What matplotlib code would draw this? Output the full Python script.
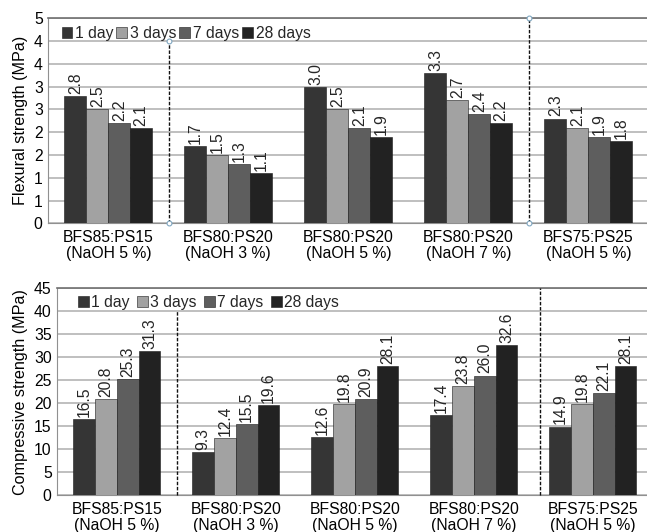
import matplotlib

matplotlib.use("Agg")
import matplotlib.pyplot as plt
import numpy as np

plt.rcParams["font.family"] = ["Liberation Sans", "DejaVu Sans"]
plt.rcParams["font.size"] = 11.3
plt.rcParams["text.color"] = "#262626"

CATEGORIES = [
    "BFS85:PS15\n(NaOH 5 %)",
    "BFS80:PS20\n(NaOH 3 %)",
    "BFS80:PS20\n(NaOH 5 %)",
    "BFS80:PS20\n(NaOH 7 %)",
    "BFS75:PS25\n(NaOH 5 %)",
]
SERIES = ["1 day", "3 days", "7 days", "28 days"]
COLORS = ["#353535", "#a2a2a2", "#5e5e5e", "#222222"]

# flexural strength (MPa)
FLEX_1D = [2.8, 1.7, 3.0, 3.3, 2.3]
FLEX_3D = [2.5, 1.5, 2.5, 2.7, 2.1]
FLEX_7D = [2.2, 1.3, 2.1, 2.4, 1.9]
FLEX_28D = [2.1, 1.1, 1.9, 2.2, 1.8]
FLEX_TICKS = [0, 0.5, 1.0, 1.5, 2.0, 2.5, 3.0, 3.5, 4.0, 4.5]
FLEX_TICK_LABELS = ["0", "1", "1", "2", "2", "3", "3", "4", "4", "5"]

# compressive strength (MPa)
COMP_1D = [16.5, 9.3, 12.6, 17.4, 14.9]
COMP_3D = [20.8, 12.4, 19.8, 23.8, 19.8]
COMP_7D = [25.3, 15.5, 20.9, 26.0, 22.1]
COMP_28D = [31.3, 19.6, 28.1, 32.6, 28.1]
COMP_TICKS = [0, 5, 10, 15, 20, 25, 30, 35, 40, 45]


def draw_panel(ax, series, ymax, ticks, ticklabels, ylabel, dividers, markers, legend_pos, colsp):
    x = np.arange(len(CATEGORIES))
    w = 0.183
    for i, (vals, name, col) in enumerate(zip(series, SERIES, COLORS)):
        xs = x + (i - 1.5) * w
        ax.bar(xs, vals, width=w, color=col, edgecolor="#1a1a1a", linewidth=0.4,
               label=name, zorder=3)
        for xi, v in zip(xs, vals):
            ax.annotate(f"{v:.1f}", (xi, v), xytext=(0, 1.5), textcoords="offset points",
                        rotation=90, ha="center", va="bottom", fontsize=11.3, zorder=4)

    ax.set_xlim(-0.5, len(CATEGORIES) - 0.5)
    ax.set_ylim(0, ymax)
    ax.set_yticks(ticks)
    ax.set_yticklabels(ticklabels)
    ax.set_xticks(x)
    ax.set_xticklabels(CATEGORIES, linespacing=1.05)
    ax.tick_params(length=0, pad=4)
    ax.tick_params(axis="x", pad=5)
    ax.grid(axis="y", color="#b4b4b4", linewidth=1.2, zorder=0)
    ax.set_axisbelow(True)
    ax.spines["right"].set_visible(False)
    ax.spines["top"].set_color("#707070")
    ax.spines["top"].set_linewidth(1.2)
    ax.spines["left"].set_color("#909090")
    ax.spines["bottom"].set_color("#909090")
    ax.set_ylabel(ylabel, fontsize=11.6, labelpad=4)

    for xd, ytop in dividers:
        ax.plot([xd, xd], [0, ytop], color="#111111", linestyle=(0, (2.5, 1.2)),
                linewidth=1.0, zorder=5, clip_on=False)
        if markers:
            ax.plot([xd, xd], [0, ytop], linestyle="none", marker="o", markersize=3.5,
                    markerfacecolor="white", markeredgecolor="#7fa6c0",
                    markeredgewidth=0.8, zorder=6, clip_on=False)

    ax.legend(loc="center left", bbox_to_anchor=legend_pos, ncol=4, frameon=False,
              handlelength=0.7, handleheight=0.7, handletextpad=0.15, columnspacing=colsp,
              borderaxespad=0, borderpad=0, fontsize=11.3)


fig = plt.figure(figsize=(6.47, 5.32), dpi=100)
ax1 = fig.add_axes([48.3 / 647, 1 - 223.3 / 532, 600 / 647, 205 / 532])
ax2 = fig.add_axes([57.3 / 647, 1 - 495 / 532, 595 / 647, 206.7 / 532])

draw_panel(ax1, [FLEX_1D, FLEX_3D, FLEX_7D, FLEX_28D], 4.5, FLEX_TICKS, FLEX_TICK_LABELS,
           "Flexural strength (MPa)", [(0.506, 4.0), (3.506, 4.5)], True, (0.022, 0.925), 0.2)
draw_panel(ax2, [COMP_1D, COMP_3D, COMP_7D, COMP_28D], 45, COMP_TICKS,
           [str(t) for t in COMP_TICKS], "Compressive strength (MPa)",
           [(0.506, 40), (3.556, 45)], False, (0.035, 0.93), 0.45)

fig.savefig("out.png", dpi=100)
